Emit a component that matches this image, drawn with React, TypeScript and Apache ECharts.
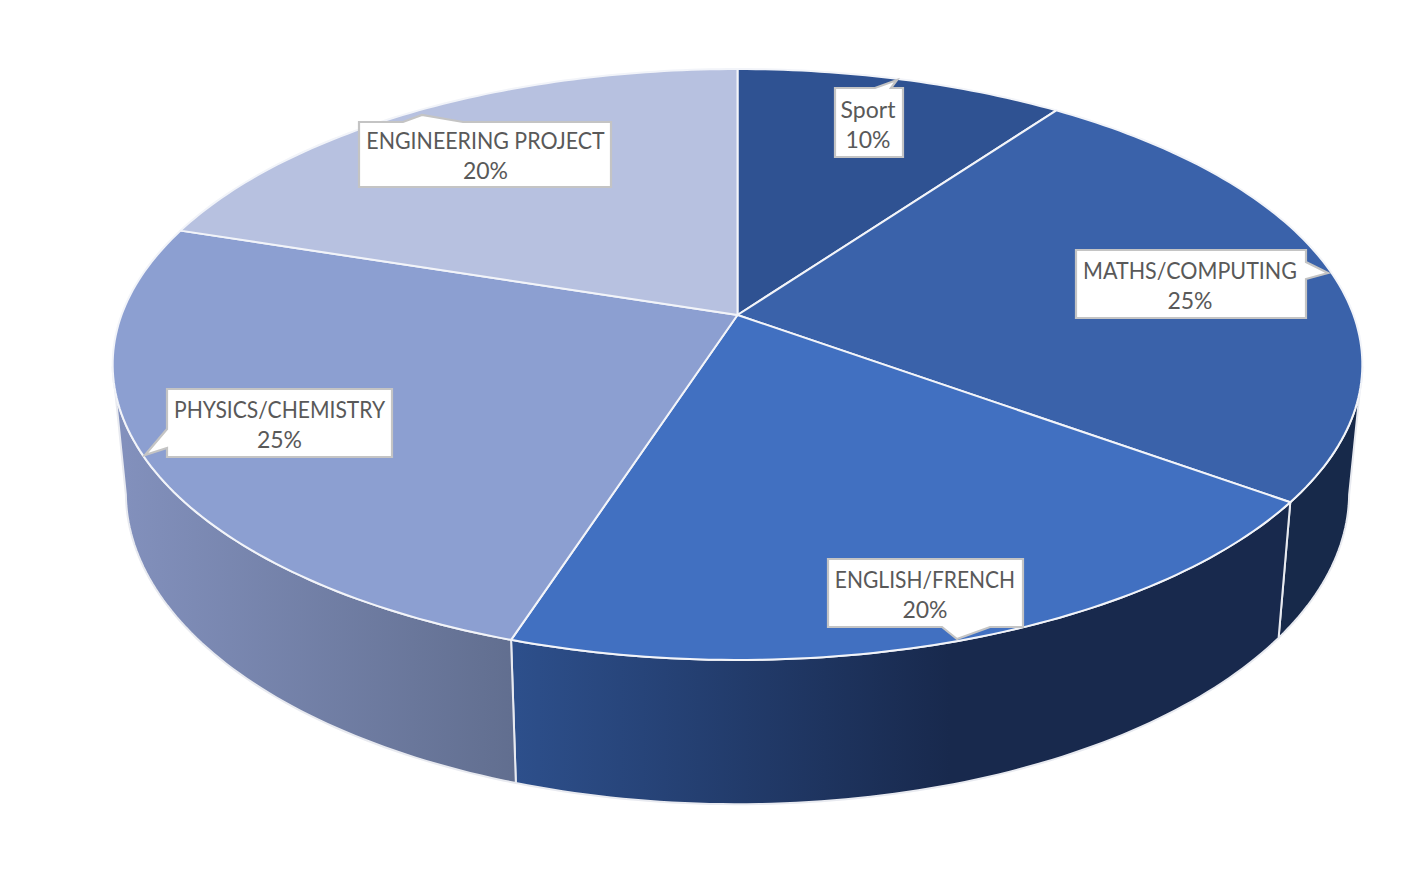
import React, { useEffect, useRef } from "react";
import * as echarts from "echarts";

const categories = ["Sport", "MATHS/COMPUTING", "ENGLISH/FRENCH", "PHYSICS/CHEMISTRY", "ENGINEERING PROJECT"];
const shares = [10, 25, 20, 25, 20];
const topColors = ["#2F5292", "#3A62AA", "#4170C1", "#8C9FD1", "#B7C1E0"];

const W = 1425;
const H = 889;

// Perspective projection of the pie's top and bottom discs.
const PERSP = 0.1675;
const TOP = { cx: 737.5, a: 616, y0: 315, b: -234.4 };
const BOTTOM = { cx: 737.5, a: 603, y0: 440.5, b: -229 };

const project = (disc: typeof TOP, deg: number): number[] => {
  const t = (deg * Math.PI) / 180;
  const u = Math.sin(t);
  const v = Math.cos(t);
  const w = 1 + PERSP * v;
  return [disc.cx + (disc.a * u) / w, (disc.y0 + disc.b * v) / w];
};

const total = shares.reduce((s, v) => s + v, 0);
const startAngles: number[] = [];
shares.reduce((acc, v) => {
  startAngles.push((acc / total) * 360);
  return acc + v;
}, 0);
const endAngle = (i: number) => startAngles[i] + (shares[i] / total) * 360;

const arc = (disc: typeof TOP, from: number, to: number): number[][] => {
  const pts: number[][] = [];
  const n = Math.max(2, Math.ceil(Math.abs(to - from)));
  for (let i = 0; i <= n; i++) pts.push(project(disc, from + ((to - from) * i) / n));
  return pts;
};

const gradient = (x: number, x2: number, c1: string, c2: string) => ({
  type: "linear",
  x,
  y: 0,
  x2,
  y2: 0,
  global: true,
  colorStops: [
    { offset: 0, color: c1 },
    { offset: 1, color: c2 },
  ],
});

const wallFills: Record<number, any> = {
  1: "#17294A",
  2: gradient(517, 950, "#2D4F8B", "#18294D"),
  3: gradient(125, 517, "#8290BC", "#616E8F"),
};
const VISIBLE_FROM = 100;
const VISIBLE_TO = 260;

type Callout = { box: number[]; ptr: number[][]; cx: number; cy: number; squeeze: number };
const callouts: Callout[] = [
  { box: [835, 88, 903, 157], ptr: [[875, 88], [897, 80], [891, 88]], cx: 868, cy: 124, squeeze: 1 },
  { box: [1076, 250, 1306, 318], ptr: [[1306, 262], [1328, 273], [1306, 279]], cx: 1190, cy: 285, squeeze: 0.934 },
  { box: [828, 559, 1023, 627], ptr: [[990, 627], [957, 639], [942, 627]], cx: 925, cy: 594, squeeze: 0.913 },
  { box: [167, 389, 392, 457], ptr: [[167, 448], [145, 455], [167, 429]], cx: 279.5, cy: 424, squeeze: 0.917 },
  { box: [359, 122, 611, 187], ptr: [[403, 122], [422, 115], [463, 122]], cx: 485.5, cy: 155, squeeze: 0.93 },
];

const calloutPath = (c: Callout): number[][] => {
  const [l, t, r, b] = c.box;
  const [p0, p1, p2] = c.ptr;
  if (p0[1] === t) return [[l, t], p0, p1, p2, [r, t], [r, b], [l, b]];
  if (p0[0] === r) return [[l, t], [r, t], p0, p1, p2, [r, b], [l, b]];
  if (p0[1] === b) return [[l, t], [r, t], [r, b], p0, p1, p2, [l, b]];
  return [[l, t], [r, t], [r, b], [l, b], p0, p1, p2];
};

const textStyle = (text: string, y: number) => ({
  x: 0,
  y,
  text,
  fill: "#595959",
  font: '23px Lato, "Open Sans", sans-serif',
  align: "center",
  verticalAlign: "middle",
});

export default function App() {
  const ref = useRef<HTMLDivElement>(null);
  useEffect(() => {
    if (!ref.current) return;
    const chart = echarts.init(ref.current, undefined, { renderer: "svg" });
    chart.setOption({
      animation: false,
      backgroundColor: "#ffffff",
      series: [
        {
          type: "custom",
          coordinateSystem: "none",
          silent: true,
          data: shares,
          renderItem: (p: any) => {
            const i = p.dataIndex;
            const from = Math.max(startAngles[i], VISIBLE_FROM);
            const to = Math.min(endAngle(i), VISIBLE_TO);
            if (to <= from) return { type: "group", children: [] };
            const pts = [...arc(TOP, from, to), ...arc(BOTTOM, to, from)];
            return {
              type: "polygon",
              shape: { points: pts },
              style: { fill: wallFills[i], stroke: "#E8EAF0", lineWidth: 2 },
            };
          },
        },
        {
          type: "custom",
          coordinateSystem: "none",
          silent: true,
          data: shares,
          renderItem: (p: any) => {
            const i = p.dataIndex;
            const pts = [[TOP.cx, TOP.y0], ...arc(TOP, startAngles[i], endAngle(i))];
            return {
              type: "polygon",
              shape: { points: pts },
              style: { fill: topColors[i], stroke: "#F2F4F9", lineWidth: 2, lineJoin: "round" },
            };
          },
        },
        {
          type: "custom",
          coordinateSystem: "none",
          silent: true,
          data: shares,
          renderItem: (p: any) => {
            const i = p.dataIndex;
            const c = callouts[i];
            return {
              type: "group",
              children: [
                {
                  type: "polygon",
                  shape: { points: calloutPath(c) },
                  style: { fill: "#FFFFFF", stroke: "#C4C4C4", lineWidth: 2.2 },
                },
                {
                  type: "text",
                  x: c.cx,
                  y: c.cy,
                  scaleX: c.squeeze,
                  style: textStyle(categories[i], -15),
                },
                {
                  type: "text",
                  x: c.cx,
                  y: c.cy,
                  style: textStyle(`${shares[i]}%`, 15),
                },
              ],
            };
          },
        },
      ],
    });
    return () => chart.dispose();
  }, []);
  return <div ref={ref} style={{ position: "fixed", left: 0, top: 0, width: W, height: H }} />;
}
